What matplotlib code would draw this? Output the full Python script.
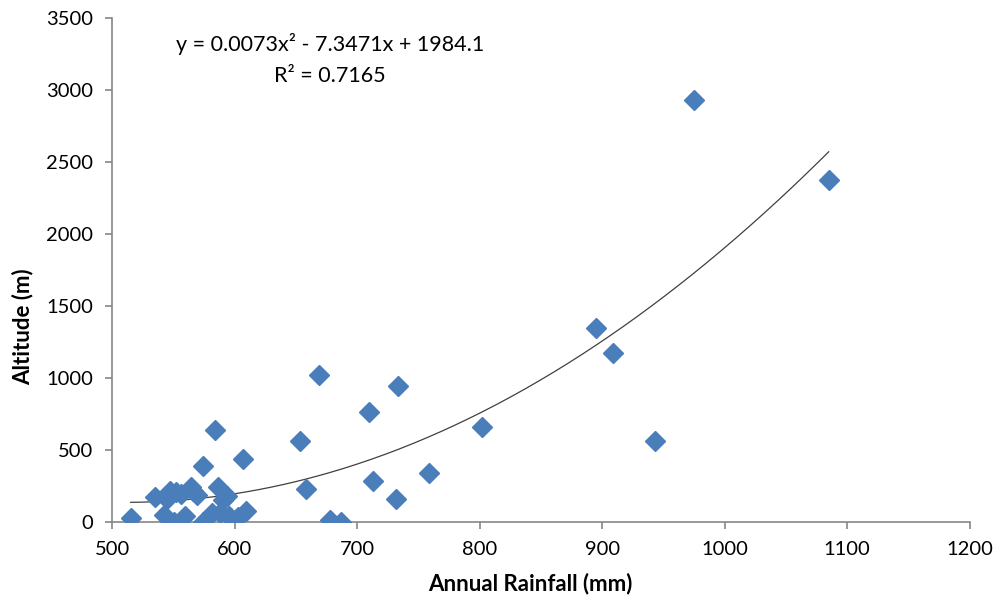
import numpy as np
import matplotlib
matplotlib.use("Agg")
import matplotlib.pyplot as plt

# Data
rainfall = [515, 535, 542, 545, 547, 550, 552, 556, 559, 564, 566, 569, 574, 574,
            581, 584, 586, 588, 590, 594, 595, 599, 603, 607, 609,
            653, 658, 669, 678, 687, 710, 713, 732, 733, 759,
            802, 895, 909, 943, 975, 1085]
altitude = [25, 170, 50, 160, 215, 0, 205, 190, 40, 240, 215, 185, 0, 390,
            60, 635, 240, 60, 150, 180, 40, 0, 30, 435, 75,
            560, 230, 1020, 15, 0, 760, 285, 155, 945, 335,
            660, 1345, 1175, 560, 2925, 2375]

eq_text = "y = 0.0073x² - 7.3471x + 1984.1"
r2_text = "R² = 0.7165"

x_ticks = [500, 600, 700, 800, 900, 1000, 1100, 1200]
y_ticks = [0, 500, 1000, 1500, 2000, 2500, 3000, 3500]

plt.rcParams['font.family'] = ['Lato', 'DejaVu Sans']

fig = plt.figure(figsize=(9.95, 5.97), dpi=100)
ax = fig.add_axes([0.1129, 0.1261, 0.8615, 0.8443])

x = np.array(rainfall, dtype=float)
y = np.array(altitude, dtype=float)
coef = np.polyfit(x, y, 2)
xs = np.linspace(x.min(), x.max(), 300)
ax.plot(xs, np.polyval(coef, xs), color='#404040', lw=0.9, zorder=2)

ax.plot(x, y, linestyle='none', marker='D', markersize=10,
        markerfacecolor='#4A7EBB', markeredgecolor='#4A7EBB', zorder=3)

ax.set_xlim(500, 1200)
ax.set_ylim(0, 3500)
ax.set_xticks(x_ticks)
ax.set_yticks(y_ticks)
for s in ['top', 'right']:
    ax.spines[s].set_visible(False)
for s in ['left', 'bottom']:
    ax.spines[s].set_color('#868686')
    ax.spines[s].set_linewidth(1.2)
ax.tick_params(axis='both', direction='out', length=5, width=1.2, color='#868686',
               labelsize=14.5, labelcolor='#000000', pad=9)

ax.set_xlabel("Annual Rainfall (mm)", fontsize=16, fontweight='bold')
ax.set_ylabel("Altitude (m)", fontsize=16, fontweight='bold')
ax.xaxis.label.set_va('center')
ax.yaxis.label.set_va('center')
ax.xaxis.set_label_coords(0.488, -0.122)
ax.yaxis.set_label_coords(-0.105, 0.386)

ax.text(678, 3317, eq_text, fontsize=15.5, ha='center', va='center')
ax.text(678, 3095, r2_text, fontsize=15.5, ha='center', va='center')

fig.savefig("out.png", dpi=100)
